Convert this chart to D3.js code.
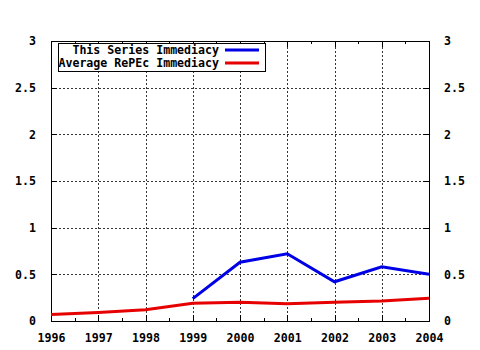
<!DOCTYPE html>
<html>
<head>
<meta charset="utf-8">
<script src="https://cdn.jsdelivr.net/npm/d3@7"></script>
<style>
  body { margin: 0; background: #fff; }
  text { font-family: "DejaVu Sans Mono", monospace; font-weight: bold; font-size: 11.6px; fill: #000; }
</style>
</head>
<body>
<div id="main"></div>
<script>
!(function () {
  'use strict';

  // data
  const years = [1996, 1997, 1998, 1999, 2000, 2001, 2002, 2003, 2004];
  const seriesYears = [1999, 2000, 2001, 2002, 2003, 2004];
  const seriesValues = [0.24, 0.63, 0.72, 0.42, 0.58, 0.50];
  const averageValues = [0.07, 0.09, 0.12, 0.19, 0.20, 0.185, 0.20, 0.215, 0.245];
  const yTicks = [0, 0.5, 1, 1.5, 2, 2.5, 3];
  const yTickLabels = ['0', '0.5', '1', '1.5', '2', '2.5', '3'];
  const legendLabels = ['This Series Immediacy', 'Average RePEc Immediacy'];

  // configuration
  const canvas = {
    width: 480,
    height: 350,
    padding: { top: 41, right: 51, bottom: 29, left: 51 }
  };
  const colors = { series: '#0000e6', average: '#e60000' };

  const svg = d3.select('#main')
    .append('svg')
    .attr('width', canvas.width)
    .attr('height', canvas.height);

  const x0 = canvas.padding.left,
    x1 = canvas.width - canvas.padding.right,
    y0 = canvas.height - canvas.padding.bottom,
    y1 = canvas.padding.top;

  const xScale = d3.scaleLinear().domain([1996, 2004]).range([x0, x1]);
  const yScale = d3.scaleLinear().domain([0, 3]).range([y0, y1]);

  // grid
  const grid = svg.append('g')
    .attr('stroke', '#333')
    .attr('stroke-width', 1)
    .attr('stroke-dasharray', '2,2')
    .attr('shape-rendering', 'crispEdges');
  grid.selectAll('line.gx')
    .data(years.slice(1, -1))
    .join('line')
    .attr('x1', d => Math.round(xScale(d)) + 0.5)
    .attr('x2', d => Math.round(xScale(d)) + 0.5)
    .attr('y1', y0)
    .attr('y2', y1);
  grid.selectAll('line.gy')
    .data(yTicks.slice(1, -1))
    .join('line')
    .attr('x1', x0)
    .attr('x2', x1)
    .attr('y1', d => Math.round(yScale(d)) + 0.5)
    .attr('y2', d => Math.round(yScale(d)) + 0.5);

  // axes
  const minorYears = d3.range(1996.5, 2004, 1);
  svg.append('g')
    .attr('transform', 'translate(0,' + y0 + ')')
    .call(d3.axisBottom(xScale).tickValues(years).tickFormat(d3.format('d'))
      .tickSizeInner(-6).tickSizeOuter(0).tickPadding(13));
  svg.append('g')
    .attr('transform', 'translate(0,' + y0 + ')')
    .call(d3.axisBottom(xScale).tickValues(minorYears).tickFormat('')
      .tickSizeInner(-3).tickSizeOuter(0));
  svg.append('g')
    .attr('transform', 'translate(0,' + y1 + ')')
    .call(d3.axisTop(xScale).tickValues(years).tickFormat('')
      .tickSizeInner(-6).tickSizeOuter(0));
  svg.append('g')
    .attr('transform', 'translate(0,' + y1 + ')')
    .call(d3.axisTop(xScale).tickValues(minorYears).tickFormat('')
      .tickSizeInner(-3).tickSizeOuter(0));
  svg.append('g')
    .attr('transform', 'translate(' + x0 + ',0)')
    .call(d3.axisLeft(yScale).tickValues(yTicks).tickFormat((d, i) => yTickLabels[i])
      .tickSizeInner(-6).tickSizeOuter(0).tickPadding(15));
  svg.append('g')
    .attr('transform', 'translate(' + x1 + ',0)')
    .call(d3.axisRight(yScale).tickValues(yTicks).tickFormat((d, i) => yTickLabels[i])
      .tickSizeInner(-6).tickSizeOuter(0).tickPadding(15));

  svg.selectAll('.domain').remove();
  svg.selectAll('.tick line').attr('stroke', '#000').attr('shape-rendering', 'crispEdges');
  svg.selectAll('.tick text').attr('font-size', null).attr('font-family', null).attr('fill', '#000');

  // border
  svg.append('rect')
    .attr('x', x0 + 0.5).attr('y', y1 + 0.5)
    .attr('width', x1 - x0).attr('height', y0 - y1)
    .attr('fill', 'none').attr('stroke', '#000')
    .attr('shape-rendering', 'crispEdges');

  // lines
  const line = d3.line()
    .x(d => xScale(d[0]))
    .y(d => yScale(d[1]));

  svg.append('path')
    .datum(years.map((y, i) => [y, averageValues[i]]))
    .attr('d', line)
    .attr('fill', 'none')
    .attr('stroke', colors.average)
    .attr('stroke-width', 3);

  svg.append('path')
    .datum(seriesYears.map((y, i) => [y, seriesValues[i]]))
    .attr('d', line)
    .attr('fill', 'none')
    .attr('stroke', colors.series)
    .attr('stroke-width', 3);

  // legend
  const legend = svg.append('g');
  legend.append('rect')
    .attr('x', 58.5).attr('y', 43.5)
    .attr('width', 207).attr('height', 28)
    .attr('fill', '#fff').attr('stroke', '#000')
    .attr('shape-rendering', 'crispEdges');
  const legendColors = [colors.series, colors.average];
  legendLabels.forEach((label, i) => {
    const ly = 50 + i * 13;
    legend.append('text')
      .attr('x', 219).attr('y', ly)
      .attr('dy', '0.35em')
      .attr('text-anchor', 'end')
      .text(label);
    legend.append('line')
      .attr('x1', 225).attr('x2', 259)
      .attr('y1', ly).attr('y2', ly)
      .attr('stroke', legendColors[i])
      .attr('stroke-width', 3);
  });
}());
</script>
</body>
</html>
